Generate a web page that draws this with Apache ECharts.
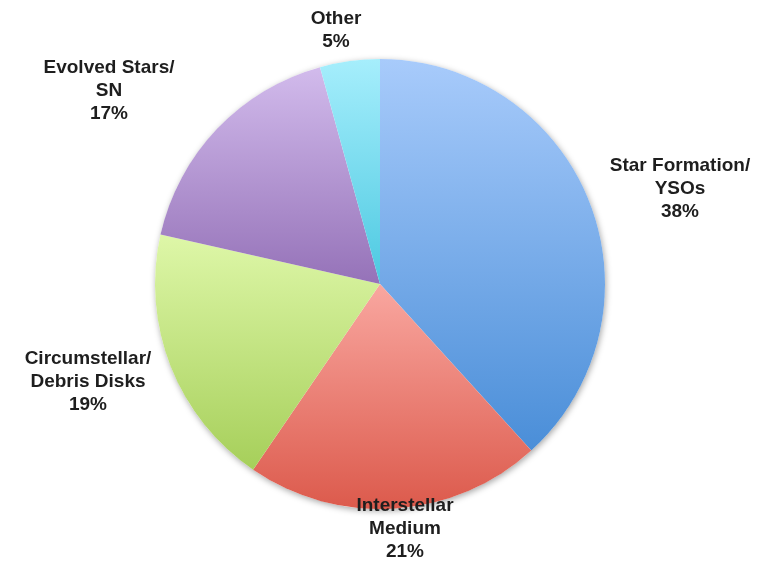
<!DOCTYPE html>
<html>
<head>
<meta charset="utf-8">
<script src="https://cdn.jsdelivr.net/npm/echarts@6/dist/echarts.min.js"></script>
<style>
html,body{margin:0;padding:0;background:#fff;}
#chart{width:775px;height:561px;}
</style>
</head>
<body>
<div id="chart"></div>
<script>
// Data
var categories = ['Star Formation/\nYSOs', 'Interstellar\nMedium', 'Circumstellar/\nDebris Disks', 'Evolved Stars/\nSN', 'Other'];
var values = [38.3, 21.3, 19.0, 17.2, 4.3];
var percentLabels = ['38%', '21%', '19%', '17%', '5%'];

// Styles
var gradientTop = ['#a8cbfb', '#f9a7a0', '#def7a8', '#d2bbec', '#a6eefc'];
var gradientBottom = ['#4a8ed8', '#dc5a4c', '#a6cf5a', '#9572b8', '#4cc9e1'];
var labelPos = [[680, 189], [405, 529], [88, 382], [109, 91], [336, 30]];

var chart = echarts.init(document.getElementById('chart'), null, {renderer: 'canvas'});
var data = categories.map(function (c, i) {
  return {
    name: c,
    value: values[i],
    itemStyle: {
      color: new echarts.graphic.LinearGradient(0, 0, 0, 1, [
        {offset: 0, color: gradientTop[i]},
        {offset: 1, color: gradientBottom[i]}
      ])
    }
  };
});

chart.setOption({
  backgroundColor: '#ffffff',
  animation: false,
  series: [
    {
      type: 'pie',
      silent: true,
      center: [380, 284],
      radius: 225,
      z: 1,
      label: {show: false},
      labelLine: {show: false},
      itemStyle: {
        color: '#ffffff',
        shadowBlur: 6,
        shadowColor: 'rgba(0,0,0,0.35)',
        shadowOffsetX: 1,
        shadowOffsetY: 2
      },
      data: [{value: 1, name: 'shadow'}]
    },
    {
      type: 'pie',
      center: [380, 284],
      radius: 225,
      startAngle: 90,
      clockwise: true,
      z: 2,
      avoidLabelOverlap: false,
      itemStyle: {borderWidth: 0},
      label: {
        show: true,
        position: 'outside',
        overflow: 'none',
        width: 300,
        formatter: function (p) { return p.name + '\n' + percentLabels[p.dataIndex]; },
        fontFamily: '"Liberation Sans", Arial, Helvetica, sans-serif',
        fontWeight: 'bold',
        fontSize: 19,
        lineHeight: 23,
        color: '#1e1e1e',
        align: 'center'
      },
      labelLine: {show: false},
      labelLayout: function (params) {
        var pos = labelPos[params.dataIndex];
        return {x: pos[0], y: pos[1], align: 'center', verticalAlign: 'middle'};
      },
      data: data
    }
  ]
});
</script>
</body>
</html>
